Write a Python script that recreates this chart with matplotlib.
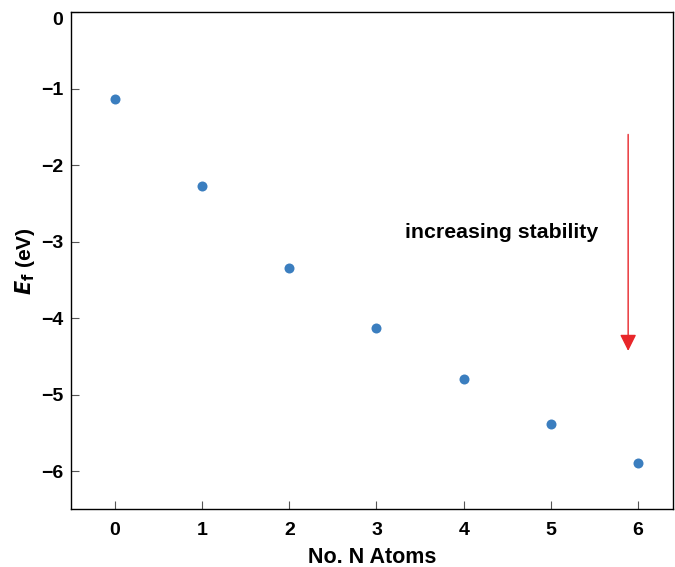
import matplotlib.pyplot as plt

plt.rcParams['font.family'] = ['Liberation Sans', 'DejaVu Sans']

# data
n_atoms = [0, 1, 2, 3, 4, 5, 6]
e_form = [-1.14, -2.28, -3.34, -4.13, -4.80, -5.39, -5.89]
x_ticks = [0, 1, 2, 3, 4, 5, 6]
y_ticks = [0, -1, -2, -3, -4, -5, -6]

fig = plt.figure(figsize=(6.75, 5.67), dpi=100)
ax = fig.add_axes([0.1056, 0.1018, 0.8914, 0.877])

ax.plot(n_atoms, e_form, 'o', color='#3b7ebf', markersize=7.2, markeredgewidth=0)

# arrow + label
ax.annotate('', xy=(5.886, -4.43), xytext=(5.886, -1.6),
            arrowprops=dict(arrowstyle='-|>', color='#e8262a', lw=1.0,
                            mutation_scale=25, shrinkA=0, shrinkB=0))
ax.text(4.44, -2.88, 'increasing stability', fontsize=15.3, fontweight='bold',
        ha='center', va='center')

ax.set_xlim(-0.5, 6.4)
ax.set_ylim(-6.5, 0)
ax.set_xticks(x_ticks)
ax.set_yticks(y_ticks)
ax.set_yticklabels(['0' if v == 0 else '\u2212%d' % -v for v in y_ticks])

ax.tick_params(direction='in', length=6, width=0.8, color='#555555',
               labelsize=14, pad=6)
ax.tick_params(axis='x', pad=9)
for lab in ax.get_xticklabels() + ax.get_yticklabels():
    lab.set_fontweight('bold')
# top label sits below the spine, as in the original
ax.get_yticklabels()[0].set_verticalalignment('top')

for s in ax.spines.values():
    s.set_linewidth(1.0)

ax.set_xlabel('No. N Atoms', fontsize=15.5, fontweight='bold', labelpad=6)
ax.set_ylabel(r'$\boldsymbol{E}_{\mathbf{f}}$ (eV)', fontsize=15, fontweight='bold',
              labelpad=3)

fig.savefig('out.png', dpi=100)
